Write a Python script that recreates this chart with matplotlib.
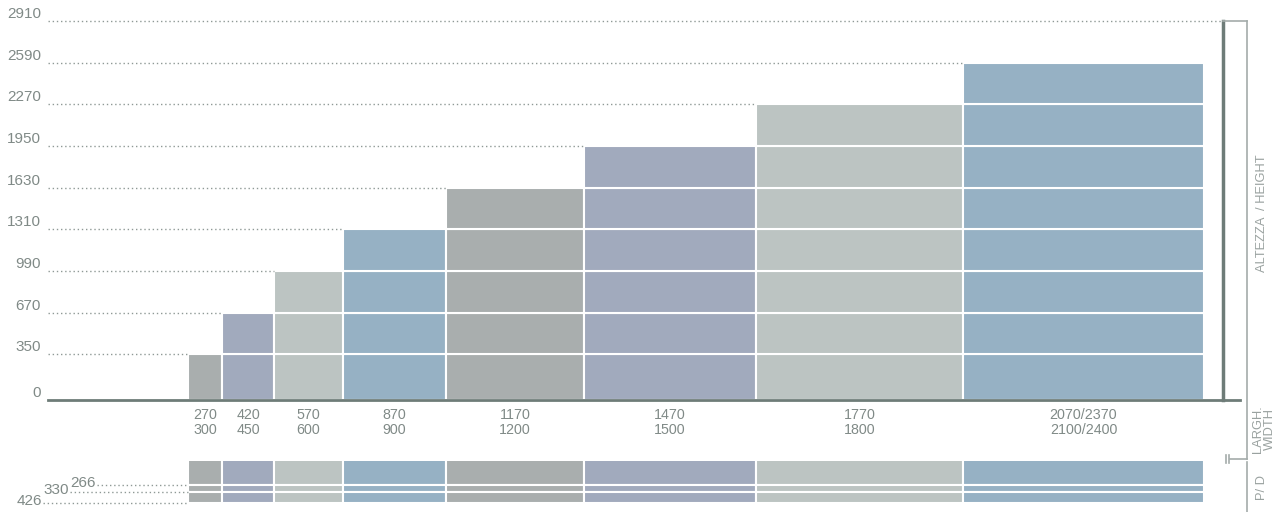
#!/usr/bin/env python3
"""Stepped size chart: heights by width, with the depth strip underneath."""

import matplotlib
matplotlib.use('Agg')
import matplotlib.pyplot as plt
from matplotlib.lines import Line2D
import numpy as np

# ---- data -------------------------------------------------------------
WIDTH_TOP = ['270', '420', '570', '870', '1170', '1470', '1770', '2070/2370']
WIDTH_BOTTOM = ['300', '450', '600', '900', '1200', '1500', '1800', '2100/2400']
NOMINAL_WIDTHS = [300, 450, 600, 900, 1200, 1500, 1800, 2100]
COLUMN_HEIGHTS = [350, 670, 990, 1310, 1630, 1950, 2270, 2590]
HEIGHT_LEVELS = [0, 350, 670, 990, 1310, 1630, 1950, 2270, 2590, 2910]
DEPTH_LEVELS = [266, 330, 426]

# ---- style ------------------------------------------------------------
COLORS = ['#a9aeae', '#a1aabd', '#bcc4c2', '#96b1c4']
AXIS_COLOR = '#6e7c78'
TEXT_COLOR = '#808a87'
DOT_COLOR = '#8f9996'
FRAME_COLOR = '#a4acaa'
LABEL_COLOR = '#9aa2a0'
DOTS = (0, (1, 2))

plt.rcParams['font.family'] = ['Liberation Sans', 'DejaVu Sans']

W, H = 1286, 512


def fx(px):
    return px / W


def fy(py):
    return 1 - py / H


fig = plt.figure(figsize=(W / 100, H / 100), dpi=100)

widths = np.asarray(NOMINAL_WIDTHS, dtype=float)
edges = np.concatenate([[0.0], np.cumsum(widths)])
lefts = edges[:-1]
centers = lefts + widths / 2
scale = (1204 - 188) / edges[-1]          # pixels per mm along x
x_lo = -(188 - 48) / scale
x_hi = edges[-1] + (1240 - 1204) / scale


def px_to_x(px):
    return (px - 188) / scale


# ---- main stepped chart ----------------------------------------------
ax = fig.add_axes([fx(48), fy(400), fx(1240) - fx(48), fy(21) - fy(400)])
ax.set_xlim(x_lo, x_hi)
ax.set_ylim(0, HEIGHT_LEVELS[-1])

for i, h in enumerate(COLUMN_HEIGHTS):
    color = COLORS[i % len(COLORS)]
    for lo, hi in zip(HEIGHT_LEVELS[:-1], HEIGHT_LEVELS[1:]):
        if hi > h:
            break
        ax.bar(lefts[i], hi - lo, width=widths[i], bottom=lo, align='edge',
               color=color, edgecolor='white', linewidth=1.5)

for v in HEIGHT_LEVELS[1:]:
    idx = [i for i, h in enumerate(COLUMN_HEIGHTS) if h >= v]
    x_end = lefts[idx[0]] if idx else px_to_x(1222)
    ax.plot([x_lo, x_end], [v, v], ls=DOTS, lw=1, color=DOT_COLOR, clip_on=False)

ax.set_yticks(HEIGHT_LEVELS)
ax.set_yticklabels([str(v) for v in HEIGHT_LEVELS])
ax.tick_params(axis='y', length=0, pad=5, labelcolor=TEXT_COLOR, labelsize=11)
for lab in ax.get_yticklabels():
    lab.set_verticalalignment('bottom')
ax.set_xticks([])
for side in ('top', 'right', 'left'):
    ax.spines[side].set_visible(False)
ax.spines['bottom'].set_color(AXIS_COLOR)
ax.spines['bottom'].set_linewidth(2)

for c, top, bot in zip(centers, WIDTH_TOP, WIDTH_BOTTOM):
    ax.annotate(f'{top}\n{bot}', xy=(c, 0), xytext=(0, -8),
                textcoords='offset pixels', ha='center', va='top',
                fontsize=10.3, color=TEXT_COLOR, linespacing=1.12)

# ---- depth strip ------------------------------------------------------
ax2 = fig.add_axes([fx(48), fy(503), fx(1240) - fx(48), fy(461) - fy(503)])
ax2.set_xlim(x_lo, x_hi)
ax2.set_ylim(DEPTH_LEVELS[-1], 50)
ax2.axis('off')

bounds = [0] + DEPTH_LEVELS
for i in range(len(COLUMN_HEIGHTS)):
    color = COLORS[i % len(COLORS)]
    for lo, hi in zip(bounds[:-1], bounds[1:]):
        ax2.bar(lefts[i], hi - lo, width=widths[i], bottom=lo, align='edge',
                color=color, edgecolor='white', linewidth=1.5)

for i, v in enumerate(DEPTH_LEVELS):
    start_px = 97 - 27 * i
    ax2.plot([px_to_x(start_px), 0], [v, v], ls=DOTS, lw=1, color=DOT_COLOR,
             clip_on=False)
    ax2.annotate(str(v), xy=(px_to_x(start_px - 1), v), xytext=(0, -2),
                 textcoords='offset pixels', ha='right', va='baseline',
                 fontsize=11, color=TEXT_COLOR, annotation_clip=False)

# ---- right-hand frame and labels --------------------------------------
def seg(p0, p1, color=FRAME_COLOR, lw=1.2):
    fig.add_artist(Line2D([fx(p0[0]), fx(p1[0])], [fy(p0[1]), fy(p1[1])],
                          color=color, lw=lw, transform=fig.transFigure))


seg((1223, 21), (1223, 400), color=AXIS_COLOR, lw=2.5)
seg((1223, 21), (1247, 21))
seg((1247, 21), (1247, 459))
seg((1230, 459), (1247, 459))
seg((1226, 455), (1226, 463))
seg((1229, 455), (1229, 463))
seg((1247, 462), (1247, 512))

fig.text(fx(1262), fy(213), 'ALTEZZA  / HEIGHT', rotation=90, ha='center',
         va='center', fontsize=9.3, color=LABEL_COLOR)
fig.text(fx(1264), fy(429), 'LARGH.\nWIDTH', rotation=90, ha='center',
         va='center', fontsize=9.3, color=LABEL_COLOR, linespacing=0.95)
fig.text(fx(1262), fy(488), 'P/ D', rotation=90, ha='center', va='center',
         fontsize=9.3, color=LABEL_COLOR)

fig.savefig('out.png', dpi=100, facecolor='white')
